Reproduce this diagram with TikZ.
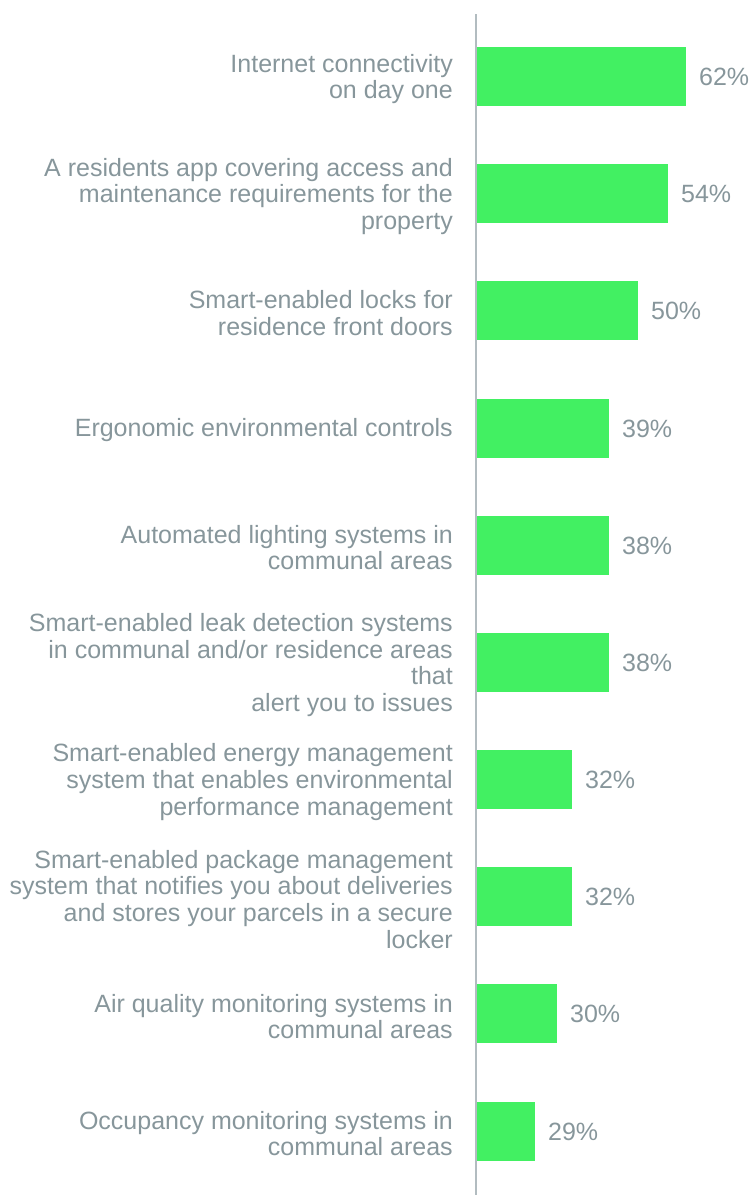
\documentclass[tikz,border=0pt]{standalone}
\usepackage{fontspec}
\setmainfont{Liberation Sans}
\definecolor{barg}{RGB}{66,240,98}
\definecolor{txtg}{RGB}{135,150,155}
\definecolor{axisg}{RGB}{178,188,192}
\tikzset{
  bar/.style={fill=barg, draw=none, minimum height=59pt, inner sep=0pt, anchor=west},
  lab/.style={anchor=east, align=right, inner sep=0pt, text=txtg, font=\fontsize{25}{26.6}\selectfont},
  pct/.style={anchor=west, inner sep=0pt, text=txtg, font=\fontsize{25}{26.6}\selectfont},
  axisline/.style={draw=axisg, line width=1.6pt}
}
\begin{document}
\begin{tikzpicture}[x=1pt,y=-1pt]
\useasboundingbox (0,0) rectangle (749,1195);
\foreach \i/\e/\p/\t in {
 0/686/62/{Internet connectivity\\on day one},
 1/668/54/{A residents app covering access and\\maintenance requirements for the\\property},
 2/638/50/{Smart-enabled locks for\\residence front doors},
 3/609/39/{Ergonomic environmental controls},
 4/609/38/{Automated lighting systems in\\communal areas},
 5/609/38/{Smart-enabled leak detection systems\\in communal and/or residence areas\\that\\alert you to issues},
 6/572/32/{Smart-enabled energy management\\system that enables environmental\\performance management},
 7/572/32/{Smart-enabled package management\\system that notifies you about deliveries\\and stores your parcels in a secure\\locker},
 8/557/30/{Air quality monitoring systems in\\communal areas},
 9/535/29/{Occupancy monitoring systems in\\communal areas}}{
  \pgfmathsetmacro{\cy}{76.5+117.17*\i}
  \pgfmathsetmacro{\w}{\e-476}
  \node[bar, minimum width=\w pt] (b\i) at (476,\cy) {};
  \node[lab] (l\i) at (453,\cy+2.5) {\t};
  \node[pct] (p\i) at ([xshift=12.5pt,yshift=-0.5pt]b\i.east) {\p\%};
}
\coordinate (axtop) at (476,14);
\coordinate (axbot) at (476,1195);
\draw[axisline] (axtop) -- (axbot);
\end{tikzpicture}
\end{document}
